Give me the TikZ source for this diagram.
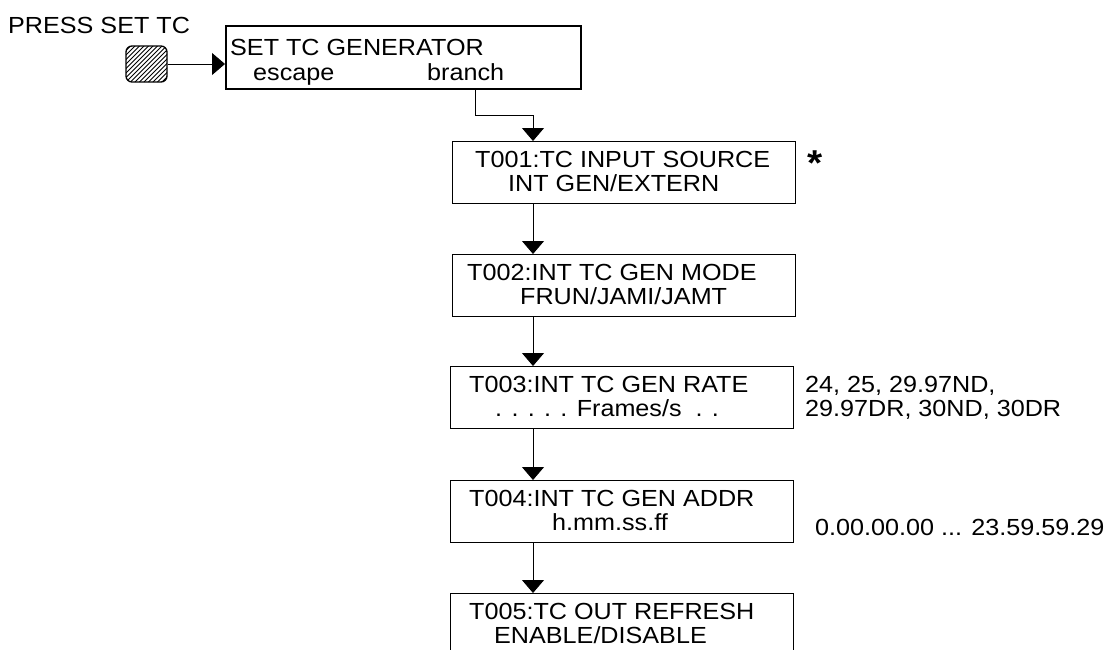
\documentclass[tikz,border=0pt]{standalone}
\usepackage{fontspec}
\setmainfont{Liberation Sans}[FakeStretch=1.08]
\usetikzlibrary{arrows.meta}
\begin{document}
\begin{tikzpicture}[x=1pt,y=-1pt,
  every node/.style={font=\fontsize{23.3}{24}\selectfont},
  box/.style={draw,line width=1.4pt,minimum width=343pt,minimum height=62pt,anchor=north west,inner sep=0pt},
  txt/.style={anchor=base west,inner sep=0pt},
  arr/.style={line width=0.9pt,-{Triangle[length=13pt,width=22pt]}},
  hatch/.style={path picture={
      \foreach \i in {-45,-40.5,...,50}
        \draw[line width=0.8pt] ([xshift=\i pt]path picture bounding box.south west) -- ++(50pt,50pt);}}]
\clip (0,0) rectangle (1112,649);
% start
\node[txt] (press) at (8,33) {PRESS SET TC};
\node[draw,line width=1.3pt,rounded corners=6pt,minimum width=41pt,minimum height=36pt,inner sep=0pt,hatch] (btn) at (146.5,64) {};
\node[box,line width=2pt,minimum width=355pt,minimum height=63pt] (b0) at (225,25) {};
\node[txt] (b0a) at (230,55) {SET TC GENERATOR};
\node[txt] (b0b) at (253,80) {escape};
\node[txt] (b0c) at (427,80) {branch};
% boxes
\node[box] (t1) at (452,141) {};
\node[txt] (t1a) at (475,167) {T001:TC INPUT SOURCE};
\node[txt] (t1b) at (508,191) {INT GEN/EXTERN};
\node[box] (t2) at (452,254) {};
\node[txt] (t2a) at (467,280) {T002:INT TC GEN MODE};
\node[txt] (t2b) at (520,304) {FRUN/JAMI/JAMT};
\node[box] (t3) at (450,366) {};
\node[txt] (t3a) at (469,392) {T003:INT TC GEN RATE};
\node[txt] (t3b) at (495,416) {. . . . . Frames/s\ \ . .};
\node[box] (t4) at (450,480) {};
\node[txt] (t4a) at (469,506) {T004:INT TC GEN ADDR};
\node[txt] (t4b) at (552,530) {h.mm.ss.ff};
\node[box] (t5) at (450,593) {};
\node[txt] (t5a) at (469,619) {T005:TC OUT REFRESH};
\node[txt] (t5b) at (494,643) {ENABLE/DISABLE};
% side notes
\node[font=\fontsize{36}{36}\bfseries\selectfont,inner sep=0pt] (star) at (815,163) {*};
\node[txt] (r1) at (805,392) {24, 25, 29.97ND,};
\node[txt] (r2) at (805,416) {29.97DR, 30ND, 30DR};
\node[txt] (r3) at (815,535) {0.00.00.00 ... 23.59.59.29};
% connectors
\coordinate (brk) at (475,115);
\coordinate (col) at (533,0);
\draw[arr] (btn.east) -- (btn.east -| b0.west);
\draw[arr] (brk |- b0.south) -- (brk) -| (col |- t1.north);
\draw[arr] (col |- t1.south) -- (col |- t2.north);
\draw[arr] (col |- t2.south) -- (col |- t3.north);
\draw[arr] (col |- t3.south) -- (col |- t4.north);
\draw[arr] (col |- t4.south) -- (col |- t5.north);
\end{tikzpicture}
\end{document}
